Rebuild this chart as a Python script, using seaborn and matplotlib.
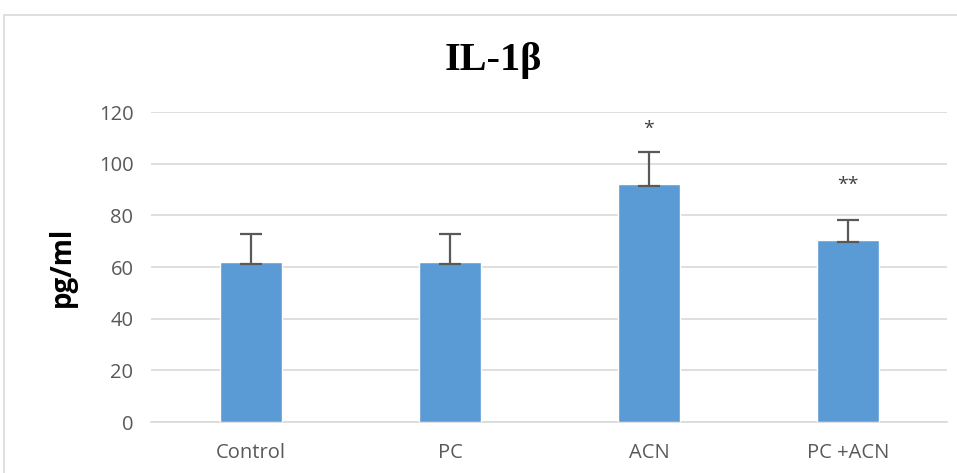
import matplotlib
matplotlib.use("Agg")
import matplotlib.pyplot as plt
from matplotlib.patches import Rectangle
import seaborn as sns
import pandas as pd

groups = ["Control", "PC", "ACN", "PC +ACN"]
means = [62.0, 62.0, 92.0, 70.5]
sd_upper = [10.8, 10.8, 12.4, 7.7]
sd_lower = [0.8, 0.8, 0.8, 0.8]
marks = ["", "", "*", "**"]
yticks = [0, 20, 40, 60, 80, 100, 120]

df = pd.DataFrame({"group": groups, "value": means})

sns.set_theme(style="white")
plt.rcParams["font.family"] = ["Open Sans", "DejaVu Sans"]

fig = plt.figure(figsize=(9.57, 4.73), dpi=100)
ax = fig.add_axes([0.1583, 0.1078, 0.8317, 0.6554])

# outer chart frame
fig.patches.append(Rectangle((4 / 957, -0.05), 1.1, 1 - 15 / 473 + 0.05,
                             transform=fig.transFigure, fill=False,
                             edgecolor="#d9d9d9", linewidth=1.2, zorder=0))

sns.barplot(data=df, x="group", y="value", color="#5B9BD5", width=0.31,
            saturation=1, ax=ax, zorder=3)

ax.errorbar(range(len(groups)), means, yerr=[sd_lower, sd_upper], fmt="none",
            ecolor="#595959", elinewidth=1.6, capsize=8, capthick=1.6, zorder=4)

# significance marks above the bars
for i, (m, s) in enumerate(zip(means, marks)):
    if s:
        ax.annotate(s, (i, m), xytext=(0, 36), textcoords="offset points",
                    ha="center", va="baseline", fontsize=14, color="#404040")

ax.set_ylim(0, 120)
ax.set_yticks(yticks)
ax.set_xlim(-0.5, len(groups) - 0.5)
ax.yaxis.grid(True, color="#d9d9d9", linewidth=1.2, zorder=0)
ax.set_axisbelow(True)
for side in ["left", "right", "top"]:
    ax.spines[side].set_visible(False)
ax.spines["bottom"].set_color("#d9d9d9")
ax.spines["bottom"].set_linewidth(1.2)
ax.tick_params(axis="both", length=0, labelsize=14.5, labelcolor="#595959")
ax.tick_params(axis="y", pad=13)
ax.tick_params(axis="x", pad=15)
ax.set_xlabel("")
ax.set_ylabel("pg/ml", fontsize=20, fontweight="bold", color="black", labelpad=16)

fig.text(0.515, 0.872, "IL-1β", ha="center", va="center", fontsize=29,
         fontweight="bold", family=["Liberation Serif", "DejaVu Serif"], color="black")

fig.savefig("out.png", dpi=100)
